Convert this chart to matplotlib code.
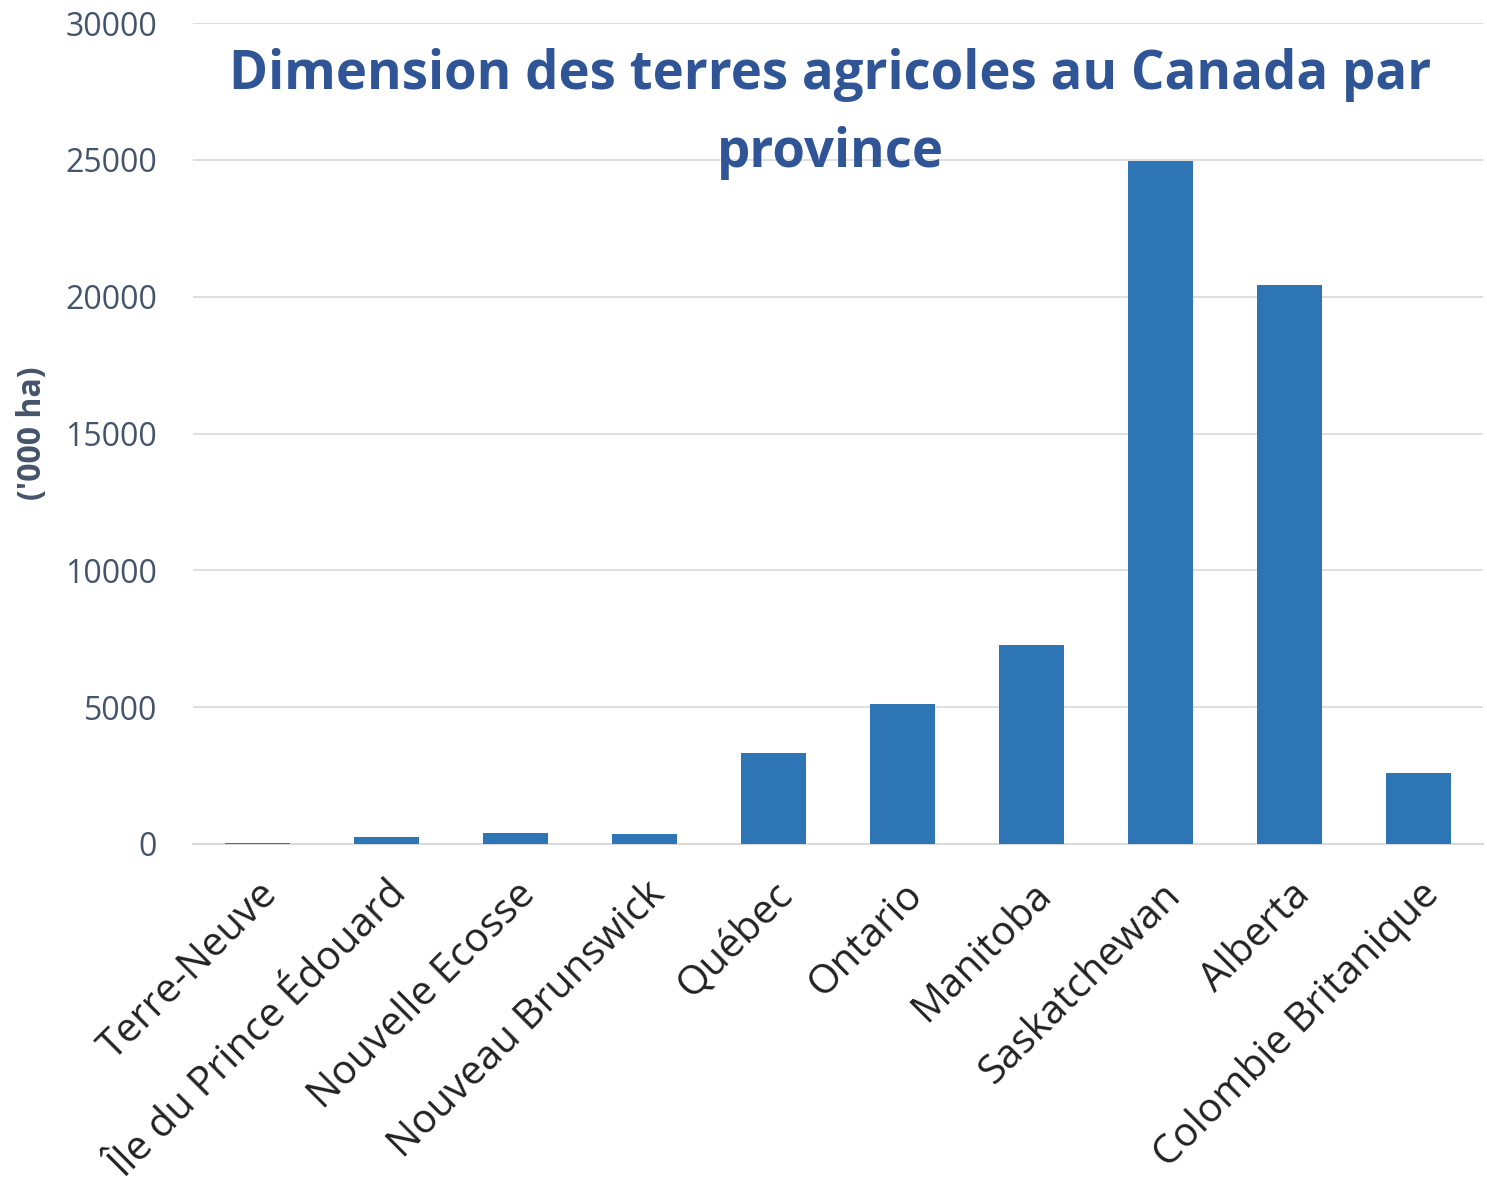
import matplotlib.pyplot as plt

provinces = ['Terre-Neuve', 'Île du Prince Édouard', 'Nouvelle Ecosse', 'Nouveau Brunswick',
             'Québec', 'Ontario', 'Manitoba', 'Saskatchewan', 'Alberta', 'Colombie Britanique']
superficie = [30, 250, 400, 370, 3325, 5115, 7270, 24950, 20425, 2595]
yticks = [0, 5000, 10000, 15000, 20000, 25000, 30000]

plt.rcParams['font.family'] = ['Open Sans', 'DejaVu Sans']

fig = plt.figure(figsize=(14.87, 11.91), dpi=100)
ax = fig.add_axes([193 / 1487, 1 - 844 / 1191, 1290 / 1487, (844 - 23) / 1191])

ax.bar(range(len(provinces)), superficie, width=0.5, color='#2E75B6', zorder=3)
ax.set_xlim(-0.5, len(provinces) - 0.5)
ax.set_ylim(0, 30000)
ax.set_yticks(yticks)
ax.set_yticklabels([str(v) for v in yticks], fontsize=23, color='#44546A')
ax.set_xticks(range(len(provinces)))
ax.set_xticklabels(provinces, rotation=45, ha='right', rotation_mode='anchor',
                   fontsize=29, color='#222222')
ax.tick_params(axis='y', length=0, pad=26)
ax.tick_params(axis='x', length=0, pad=22)
ax.grid(axis='y', color='#D9D9D9', linewidth=1.2, zorder=0)
for s in ['top', 'right', 'left']:
    ax.spines[s].set_visible(False)
ax.spines['bottom'].set_color('#D9D9D9')
ax.spines['bottom'].set_linewidth(1.5)

ax.set_ylabel("('000 ha)", fontsize=23, fontweight='bold', color='#44546A')
ax.yaxis.set_label_coords(-0.112, 0.5)

ax.text(0.494, 0.97, 'Dimension des terres agricoles au Canada par\nprovince',
        transform=ax.transAxes, ha='center', va='top', fontsize=38, fontweight='bold',
        color='#2F5597', linespacing=1.6, zorder=5)

fig.savefig('out.png', dpi=100)
